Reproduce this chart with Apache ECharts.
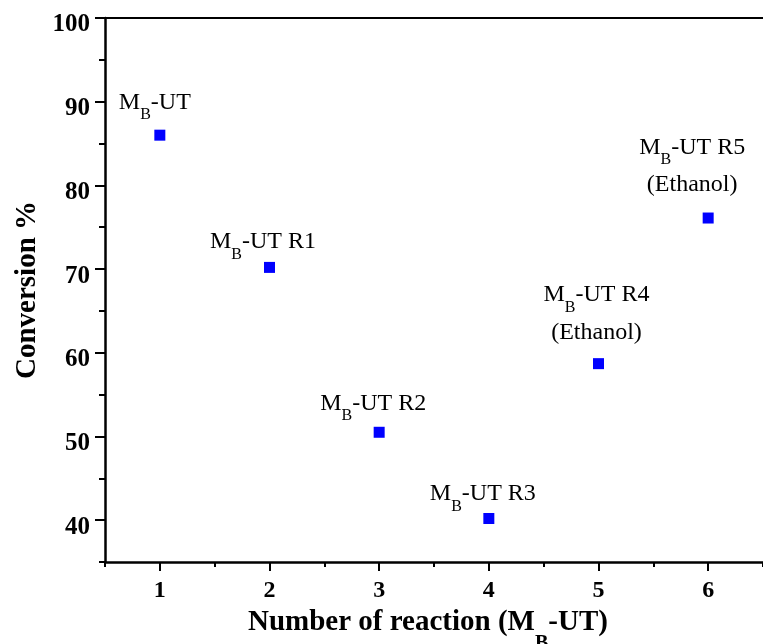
<!DOCTYPE html>
<html><head><meta charset="utf-8">
<script src="https://cdn.jsdelivr.net/npm/echarts@6/dist/echarts.min.js"></script>
<style>html,body{margin:0;padding:0;background:#fff}#c{width:763px;height:644px}</style>
</head><body><div id="c"></div>
<script>
// ---- data ----
const reactionNumbers = [1, 2, 3, 4, 5, 6];
const conversion = [86.0, 70.2, 50.5, 40.2, 58.7, 76.1];
const pointSuffix = ['', ' R1', ' R2', ' R3', ' R4', ' R5'];
const pointNote = ['', '', '', '', '(Ethanol)', '(Ethanol)'];
const xTickLabels = [1, 2, 3, 4, 5, 6];
const yTickLabels = [40, 50, 60, 70, 80, 90, 100];

// ---- layout (label nudges, px) ----
const labelNudge = [[-5, -10], [-6.5, -3], [-6, -6], [-6, -2], [-2, -5], [-16, -7]];

const SERIF = 'Liberation Serif, Times New Roman, serif';
const chart = echarts.init(document.getElementById('c'));

const seriesData = reactionNumbers.map((x, i) => ({
  value: [x, conversion[i]],
  label: { offset: labelNudge[i] }
}));

chart.setOption({
  animation: false,
  backgroundColor: '#fff',
  grid: { left: 105, top: 18, right: -14, bottom: 82, containLabel: false },
  title: {
    left: 248, top: 614, padding: 0,
    text: '{a|Number of reaction (M}{b|B}{a|-UT)}',
    textStyle: {
      rich: {
        a: { fontFamily: SERIF, fontWeight: 'bold', fontSize: 29, lineHeight: 32, padding: [0, 0, 15, 0], color: '#000' },
        b: { fontFamily: SERIF, fontWeight: 'bold', fontSize: 20, lineHeight: 20, padding: [27, 0, 0, 0], color: '#000' }
      }
    }
  },
  xAxis: [
    {
      type: 'value', position: 'bottom', min: 0.5, max: 6.5, interval: 0.5,
      axisLine: { show: true, lineStyle: { color: '#000', width: 2.5 } },
      axisTick: { show: true, length: 5, lineStyle: { color: '#000', width: 2 } },
      axisLabel: { customValues: xTickLabels, margin: 17, color: '#000', fontFamily: SERIF, fontWeight: 'bold', fontSize: 24 },
      splitLine: { show: false }
    },
    {
      type: 'value', position: 'bottom', min: 0.5, max: 6.5,
      axisLine: { show: false },
      axisTick: { show: true, customValues: xTickLabels, length: 9, lineStyle: { color: '#000', width: 2 } },
      axisLabel: { show: false },
      splitLine: { show: false }
    },
    {
      type: 'value', position: 'top', min: 0.5, max: 6.5,
      axisLine: { show: true, lineStyle: { color: '#000', width: 2 } },
      axisTick: { show: false },
      axisLabel: { show: false },
      splitLine: { show: false }
    }
  ],
  yAxis: [
    {
      type: 'value', position: 'left', min: 35, max: 100, interval: 5,
      name: 'Conversion %', nameLocation: 'middle', nameGap: 53,
      nameTextStyle: { fontFamily: SERIF, fontWeight: 'bold', fontSize: 29, color: '#000' },
      axisLine: { show: true, lineStyle: { color: '#000', width: 2.5 } },
      axisTick: { show: true, length: 6, lineStyle: { color: '#000', width: 2 } },
      axisLabel: { customValues: yTickLabels, margin: 15, verticalAlign: 'top', lineHeight: 14, color: '#000', fontFamily: SERIF, fontWeight: 'bold', fontSize: 25 },
      splitLine: { show: false }
    },
    {
      type: 'value', position: 'left', min: 35, max: 100,
      axisLine: { show: false },
      axisTick: { show: true, customValues: yTickLabels, length: 10, lineStyle: { color: '#000', width: 2 } },
      axisLabel: { show: false },
      splitLine: { show: false }
    }
  ],
  series: [{
    type: 'scatter',
    xAxisIndex: 0, yAxisIndex: 0,
    symbol: 'rect', symbolSize: 11,
    itemStyle: { color: '#0000ff', opacity: 1 },
    data: seriesData,
    label: {
      show: true, position: 'top', distance: 0,
      formatter: function (p) {
        const i = p.dataIndex;
        let s = '{a|M}{b|B}{a|-UT' + pointSuffix[i] + '}';
        if (pointNote[i]) s += '\n{c|' + pointNote[i] + '}';
        return s;
      },
      rich: {
        a: { fontFamily: SERIF, fontSize: 24, lineHeight: 26, padding: [0, 0, 8, 0], color: '#000' },
        b: { fontFamily: SERIF, fontSize: 16, lineHeight: 16, padding: [17, 0, 0, 0], color: '#000' },
        c: { fontFamily: SERIF, fontSize: 24, lineHeight: 41, color: '#000' }
      }
    }
  }]
});
</script>
</body></html>
